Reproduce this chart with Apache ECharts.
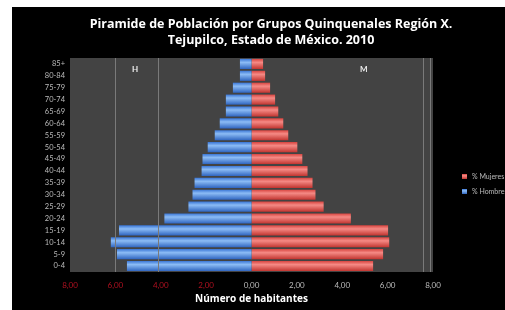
<!DOCTYPE html>
<html>
<head>
<meta charset="utf-8">
<script src="https://cdn.jsdelivr.net/npm/echarts@6/dist/echarts.min.js"></script>
<style>
    html, body { margin: 0; padding: 0; background: #fff; width: 100%; height: 100%; overflow: hidden; }
    #main { position: absolute; left: 12px; top: 7px; right: 0; bottom: 0; background: #000; }
</style>
</head>
<body>
<div id="main"></div>
<script>
// grupos de edad, de abajo (0-4) hacia arriba (85+)
var grupos = ['0-4', '5-9', '10-14', '15-19', '20-24', '25-29', '30-34', '35-39', '40-44',
    '45-49', '50-54', '55-59', '60-64', '65-69', '70-74', '75-79', '80-84', '85+'];
// porcentaje de hombres (se dibuja a la izquierda, en negativo)
var hombres = [5.49, 5.93, 6.20, 5.84, 3.84, 2.78, 2.60, 2.51, 2.20,
    2.16, 1.93, 1.62, 1.40, 1.13, 1.13, 0.82, 0.51, 0.51];
// porcentaje de mujeres
var mujeres = [5.36, 5.80, 6.07, 6.02, 4.38, 3.18, 2.82, 2.69, 2.47,
    2.24, 2.02, 1.62, 1.40, 1.18, 1.04, 0.82, 0.60, 0.51];
// lineas verticales que aparecen en el grafico original
var lineasRef = [-6, -4.1, 7.55, 7.9];

var myChart = echarts.init(document.getElementById('main'));

function degradado(c1, c2, c3) {
    return new echarts.graphic.LinearGradient(0, 0, 0, 1, [
        { offset: 0, color: c1 },
        { offset: 0.35, color: c2 },
        { offset: 1, color: c3 }
    ]);
}

var option = {
    animation: false,
    title: {
        text: 'Piramide de Población por Grupos Quinquenales Región X.\nTejupilco, Estado de México. 2010',
        left: 254,
        top: 4,
        textAlign: 'center',
        textStyle: {
            color: '#fff',
            fontFamily: 'Open Sans',
            fontWeight: 'bold',
            fontSize: 12.5,
            lineHeight: 16
        }
    },
    legend: {
        data: ['% Mujeres', '% Hombres'],
        orient: 'vertical',
        left: 445,
        top: 161,
        itemWidth: 5,
        itemHeight: 5,
        itemGap: 8,
        icon: 'rect',
        textStyle: { color: '#bbb', fontSize: 7, fontFamily: 'Lato' }
    },
    grid: {
        left: 58,
        top: 51,
        width: 363,
        height: 214,
        show: true,
        backgroundColor: '#434343',
        borderWidth: 0
    },
    xAxis: {
        type: 'value',
        min: -8,
        max: 8,
        interval: 2,
        name: 'Número de habitantes',
        nameLocation: 'middle',
        nameGap: 22,
        nameTextStyle: { color: '#fff', fontWeight: 'bold', fontSize: 10, fontFamily: 'Open Sans' },
        axisLine: { show: false },
        axisTick: { show: false },
        splitLine: { show: false },
        axisLabel: {
            margin: 9,
            fontSize: 8,
            fontFamily: 'Lato',
            formatter: function(v) {
                var t = Math.abs(v).toFixed(2).replace('.', ',');
                return v < 0 ? '{neg|' + t + '}' : '{pos|' + t + '}';
            },
            rich: {
                neg: { color: '#b01020', fontSize: 8, fontFamily: 'Lato' },
                pos: { color: '#bbb', fontSize: 8, fontFamily: 'Lato' }
            }
        }
    },
    yAxis: {
        type: 'category',
        data: grupos,
        axisLine: { show: false },
        axisTick: { show: false },
        axisLabel: { color: '#bbb', fontSize: 7.5, fontFamily: 'Lato', margin: 5 }
    },
    graphic: [
        { type: 'text', left: 120, top: 58, style: { text: 'H', fill: '#eee', font: 'bold 8px Lato' } },
        { type: 'text', left: 348, top: 58, style: { text: 'M', fill: '#eee', font: 'bold 8px Lato' } }
    ],
    series: [
        {
            name: '% Mujeres',
            type: 'bar',
            stack: 'pob',
            barCategoryGap: '15%',
            data: mujeres,
            itemStyle: { color: degradado('#d84540', '#f58a85', '#c23530') },
            markLine: {
                silent: true,
                symbol: 'none',
                label: { show: false },
                lineStyle: { color: '#7a7a7a', width: 1, type: 'solid' },
                data: lineasRef.map(function(v) { return { xAxis: v }; })
            }
        },
        {
            name: '% Hombres',
            type: 'bar',
            stack: 'pob',
            barCategoryGap: '15%',
            data: hombres.map(function(v) { return -v; }),
            itemStyle: { color: degradado('#3a76d6', '#8cbcf5', '#2f65c0') }
        }
    ]
};

myChart.setOption(option);
</script>
</body>
</html>
